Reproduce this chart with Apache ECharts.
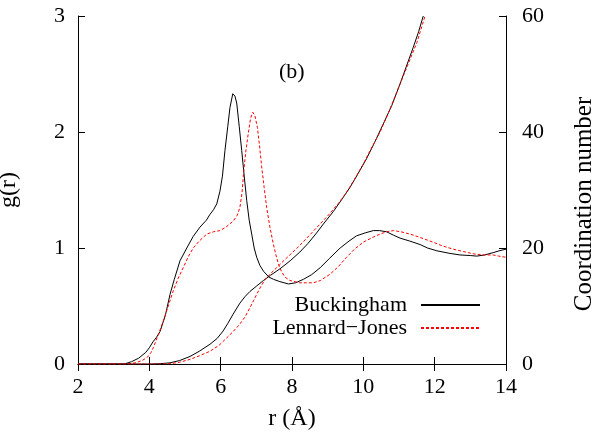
<!DOCTYPE html>
<html>
<head>
<meta charset="utf-8">
<script src="https://cdn.jsdelivr.net/npm/echarts@6/dist/echarts.min.js"></script>
<style>html,body{margin:0;padding:0;background:#fff}#c{width:595px;height:432px}</style>
</head>
<body>
<div id="c"></div>
<script>
// g(r) Buckingham
const rBuckG = [2,3,3.3,3.5,3.7,3.9,4.0,4.1,4.2,4.3,4.45,4.58,4.7,4.86,5.05,5.23,5.42,5.6,5.7,5.8,5.89,5.98,6.05,6.12,6.2,6.26,6.34,6.4,6.45,6.52,6.59,6.66,6.73,6.8,6.87,6.94,7.01,7.1,7.2,7.35,7.48,7.66,7.9,8.1,8.32,8.55,8.79,9.05,9.35,9.6,9.81,10.05,10.28,10.45,10.65,10.85,11.03,11.3,11.59,11.8,12.06,12.4,12.71,13.0,13.18,13.4,13.64,13.8,14];
const gBuck = [0,0,0.0,0.02,0.05,0.1,0.14,0.19,0.23,0.28,0.42,0.6,0.73,0.89,1.0,1.1,1.18,1.24,1.29,1.33,1.38,1.49,1.62,1.84,2.05,2.21,2.33,2.31,2.25,2.05,1.84,1.62,1.41,1.24,1.12,1.0,0.92,0.85,0.80,0.75,0.73,0.71,0.69,0.70,0.73,0.77,0.83,0.91,1.0,1.06,1.105,1.13,1.15,1.15,1.14,1.11,1.085,1.06,1.03,1.0,0.976,0.955,0.94,0.935,0.93,0.94,0.96,0.975,0.99];
// g(r) Lennard-Jones
const rLjG = [2,3.4,3.6,3.8,3.95,4.05,4.11,4.25,4.39,4.53,4.67,4.81,4.95,5.1,5.23,5.4,5.61,5.8,5.98,6.15,6.36,6.46,6.54,6.6,6.64,6.7,6.77,6.84,6.9,6.96,7.03,7.09,7.15,7.22,7.29,7.38,7.48,7.55,7.62,7.7,7.8,7.94,8.08,8.22,8.4,8.6,8.8,9.07,9.3,9.53,9.75,10.0,10.25,10.47,10.65,10.84,11.05,11.31,11.6,11.96,12.2,12.52,12.8,13.08,13.35,13.64,13.8,14];
const gLj = [0,0,0.01,0.03,0.06,0.1,0.14,0.25,0.37,0.5,0.63,0.74,0.83,0.93,1.0,1.06,1.12,1.14,1.15,1.18,1.235,1.28,1.35,1.48,1.64,1.82,1.98,2.12,2.17,2.14,2.04,1.88,1.70,1.52,1.35,1.18,1.03,0.94,0.86,0.8,0.75,0.72,0.71,0.70,0.70,0.70,0.72,0.775,0.84,0.92,0.99,1.05,1.09,1.12,1.14,1.15,1.14,1.12,1.09,1.05,1.02,0.99,0.97,0.95,0.94,0.94,0.93,0.92];
// Coordination number Buckingham
const rBuckCn = [2,4.0,4.3,4.58,4.85,5.14,5.4,5.7,5.9,6.07,6.2,6.35,6.54,6.68,6.82,7.0,7.2,7.4,7.66,7.95,8.22,8.45,8.69,8.9,9.16,9.4,9.63,9.85,10.09,10.3,10.56,10.8,11.03,11.2,11.4,11.55,11.68];
const cnBuck = [0,0,0.05,0.2,0.6,1.3,2.2,3.4,4.4,5.7,7.0,8.6,10.5,11.6,12.5,13.4,14.4,15.3,16.4,17.8,19.3,20.8,22.6,24.3,26.3,28.4,30.5,32.8,35.4,38.0,41.4,44.6,48.3,51.2,54.6,57.3,60];
// Coordination number Lennard-Jones
const rLjCn = [2,4.3,4.58,4.85,5.14,5.4,5.7,5.95,6.17,6.35,6.54,6.68,6.82,6.92,7.01,7.12,7.24,7.4,7.57,7.8,8.13,8.4,8.69,9.07,9.3,9.53,9.75,10.0,10.19,10.47,10.75,11.03,11.25,11.5,11.73];
const cnLj = [0,0,0.05,0.3,0.8,1.4,2.2,3.2,4.5,5.6,6.9,8.1,9.7,10.9,12.0,13.3,14.5,15.6,16.6,18.0,19.9,21.6,23.5,26.0,27.7,29.6,31.8,34.5,36.8,40.0,44.0,48.3,51.6,55.4,60];

const xTicks = [2,4,6,8,10,12,14];
const gTicks = [0,1,2,3];
const cnTicks = [0,20,40,60];
const legendNames = ['Buckingham','Lennard\u2212Jones'];

const zip = (a,b) => a.map((v,i)=>[v,b[i]]);
const FONT = 'Liberation Serif';
const tickStyle = {show:true, inside:true, length:7, lineStyle:{color:'#000', width:1}};
const lineAx = {show:true, lineStyle:{color:'#000', width:1}};

const chart = echarts.init(document.getElementById('c'), null, {renderer:'canvas'});
chart.setOption({
  animation:false,
  backgroundColor:'#fff',
  title:{text:'(b)', left:279, top:61, padding:0, textStyle:{fontFamily:FONT, fontSize:22, fontWeight:'normal', color:'#000'}},
  grid:{left:78, right:89, top:16, bottom:68, containLabel:false, outerBoundsMode:'none'},
  legend:{
    data:legendNames, orient:'vertical', right:114, top:294, align:'right', padding:0,
    itemWidth:59, itemHeight:14, itemGap:1,
    itemStyle:{opacity:0},
    textStyle:{fontFamily:FONT, fontSize:22, color:'#000', padding:[0,9,0,0]}
  },
  xAxis:[
    {type:'value', min:xTicks[0], max:xTicks[xTicks.length-1], interval:2, position:'bottom',
     axisLine:lineAx, axisTick:tickStyle, splitLine:{show:false},
     axisLabel:{fontFamily:FONT, fontSize:22, color:'#000', margin:12},
     name:'r (\u00C5)', nameLocation:'middle', nameGap:43,
     nameTextStyle:{fontFamily:FONT, fontSize:24, color:'#000'}},
    {type:'value', min:2, max:14, interval:2, position:'top',
     axisLine:lineAx, axisTick:tickStyle, splitLine:{show:false}, axisLabel:{show:false}}
  ],
  yAxis:[
    {type:'value', min:gTicks[0], max:gTicks[gTicks.length-1], interval:1, position:'left',
     axisLine:lineAx, axisTick:tickStyle, splitLine:{show:false},
     axisLabel:{fontFamily:FONT, fontSize:22, color:'#000', margin:13},
     name:'g(r)', nameLocation:'middle', nameGap:57,
     nameTextStyle:{fontFamily:FONT, fontSize:24, color:'#000'}},
    {type:'value', min:cnTicks[0], max:cnTicks[cnTicks.length-1], interval:20, position:'right',
     axisLine:lineAx, axisTick:tickStyle, splitLine:{show:false},
     axisLabel:{fontFamily:FONT, fontSize:22, color:'#000', margin:16},
     name:'Coordination number', nameLocation:'middle', nameGap:66, nameRotate:90,
     nameTextStyle:{fontFamily:FONT, fontSize:25, color:'#000', padding:[0,28,0,0]}}
  ],
  series:[
    {name:legendNames[0], type:'line', xAxisIndex:0, yAxisIndex:0, data:zip(rBuckG,gBuck),
     showSymbol:false, symbol:'none', lineStyle:{color:'#000', width:1}, itemStyle:{color:'#000'}},
    {name:legendNames[1], type:'line', xAxisIndex:0, yAxisIndex:0, data:zip(rLjG,gLj),
     showSymbol:false, symbol:'none', lineStyle:{color:'#ff0000', width:1, type:[3,2]}, itemStyle:{color:'#ff0000'}},
    {name:'cnB', type:'line', xAxisIndex:0, yAxisIndex:1, data:zip(rBuckCn,cnBuck),
     showSymbol:false, symbol:'none', lineStyle:{color:'#000', width:1}},
    {name:'cnL', type:'line', xAxisIndex:0, yAxisIndex:1, data:zip(rLjCn,cnLj),
     showSymbol:false, symbol:'none', lineStyle:{color:'#ff0000', width:1, type:[3,2]}}
  ]
});
</script>
</body>
</html>
